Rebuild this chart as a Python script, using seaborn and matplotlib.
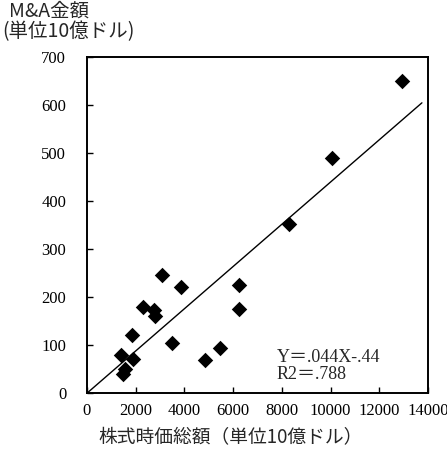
"""Scatter of M&A value vs. stock market capitalisation with fitted line."""

import matplotlib

matplotlib.use("Agg")

import matplotlib.pyplot as plt
import numpy as np
import pandas as pd
import seaborn as sns

# market cap (10億ドル) and M&A value (10億ドル)
market_cap = [1400, 1480, 1570, 1850, 1870, 2300, 2750, 2800, 3100, 3500,
              3850, 4850, 5450, 6250, 6250, 8300, 10050, 12950]
ma_value = [80, 40, 50, 120, 70, 180, 172, 160, 245, 105,
            220, 68, 93, 225, 175, 352, 490, 650]

fit_slope = 0.044
fit_intercept = -0.44
fit_x_range = [0, 13750]

x_ticks = [0, 2000, 4000, 6000, 8000, 10000, 12000, 14000]
y_ticks = [0, 100, 200, 300, 400, 500, 600, 700]

NUM_FONT = ["Liberation Serif", "Noto Sans CJK JP"]
JP_FONT = ["Noto Sans CJK JP", "DejaVu Sans"]


def main() -> None:
    sns.set_style("ticks")
    plt.rcParams["font.family"] = NUM_FONT

    fig = plt.figure(figsize=(4.47, 4.54), dpi=100)
    ax = fig.add_axes([0.1946, 0.1344, 0.7629, 0.74])

    frame = pd.DataFrame({"cap": market_cap, "ma": ma_value})
    sns.scatterplot(data=frame, x="cap", y="ma", marker="D", s=62,
                    color="black", edgecolor="black", linewidth=0, ax=ax)

    line_x = np.array(fit_x_range, dtype=float)
    ax.plot(line_x, fit_slope * line_x + fit_intercept, color="black", linewidth=1.0)

    ax.set_xlim(0, 14000)
    ax.set_ylim(0, 700)
    ax.set_xticks(x_ticks)
    ax.set_yticks(y_ticks)
    ax.tick_params(direction="in", length=4, width=1, labelsize=12, colors="black")
    ax.tick_params(axis="y", pad=15)
    ax.tick_params(axis="x", pad=7)
    for spine in ax.spines.values():
        spine.set_linewidth(1.4)
        spine.set_color("black")
    ax.set_xlabel("")
    ax.set_ylabel("")

    ax.text(7800, 73, "Y＝.044X-.44", fontsize=13, family=NUM_FONT, va="center")
    ax.text(7800, 38, "R2＝.788", fontsize=13, family=NUM_FONT, va="center")

    fig.text(0.02, 0.976, "M&A金額", fontsize=14, family=JP_FONT, va="center")
    fig.text(0.006, 0.93, "(単位10億ドル)", fontsize=14, family=JP_FONT, va="center")
    fig.text(0.515, 0.035, "株式時価総額（単位10億ドル）", fontsize=13.5,
             family=JP_FONT, ha="center", va="center")

    fig.savefig("out.png", dpi=100)
    plt.close(fig)


if __name__ == "__main__":
    main()
